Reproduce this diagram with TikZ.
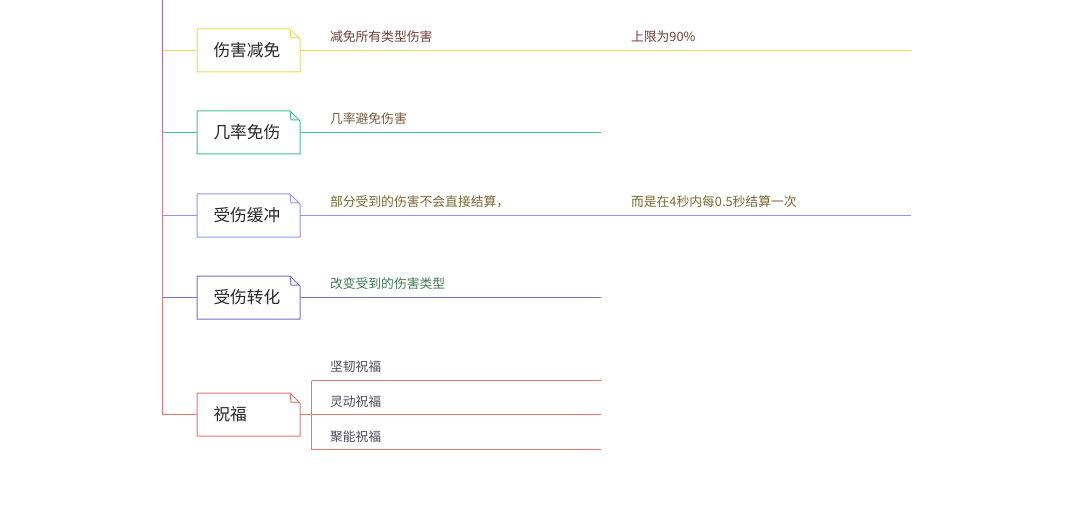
\documentclass[tikz,border=0pt]{standalone}
\usepackage{fontspec}
\setmainfont{Noto Sans CJK SC}
\usetikzlibrary{calc}

\definecolor{jmcolor}{HTML}{EED95A}
\definecolor{jlcolor}{HTML}{3EC49A}
\definecolor{hccolor}{HTML}{8A98EC}
\definecolor{zhcolor}{HTML}{7070D2}
\definecolor{zfcolor}{HTML}{EC7272}
\definecolor{jmtext}{HTML}{6E3E36}
\definecolor{jltext}{HTML}{7A5C3C}
\definecolor{hctext}{HTML}{786A32}
\definecolor{zhtext}{HTML}{3E7A55}
\definecolor{zftext}{HTML}{4A4A5C}

\tikzset{every picture/.style={line width=0.75pt}}
\tikzset{
	topic/.style={minimum width=76.5pt, minimum height=31.5pt, text width=52.5pt,
		inner xsep=12pt, inner ysep=0pt, align=left,
		font=\fontsize{12.5}{14}\selectfont, text=black!85},
	leaf/.style={anchor=west, inner sep=0pt, font=\fontsize{9.6}{11}\selectfont}}

% box with folded corner
\newcommand{\notebox}[2]{%
	\draw [draw=#2] (#1.south west) -- (#1.north west) -- ($(#1.north east)+(-10,0)$) -- ($(#1.north east)+(0,10)$) -- (#1.south east) -- cycle ;
	\draw [draw=#2] ($(#1.north east)+(-10,0)$) -- ++(1,9) -- ++(8,0) ;}

\begin{document}
\begin{tikzpicture}[x=0.75pt,y=0.75pt,yscale=-1,xscale=1]
	\useasboundingbox (0,0) rectangle (1080,513);
	\begin{scope}[shift={(0.5,0.5)}]

	% Topic boxes
	\node [topic] (jm) at (248,50) {伤害减免};
	\node [topic] (jl) at (248,132) {几率免伤};
	\node [topic] (hc) at (248,215) {受伤缓冲};
	\node [topic] (zh) at (248,297) {受伤转化};
	\node [topic] (zf) at (248,414) {祝福};
	\notebox{jm}{jmcolor}
	\notebox{jl}{jlcolor}
	\notebox{hc}{hccolor}
	\notebox{zh}{zhcolor}
	\notebox{zf}{zfcolor}

	% Trunk
	\coordinate (trunktop) at (162,-1);
	\draw [draw={rgb, 255:red, 180; green, 98; blue, 142 }] (trunktop) -- (jm.west -| trunktop) ;
	\draw [draw={rgb, 255:red, 200; green, 108; blue, 146 }] (jm.west -| trunktop) -- (jl.west -| trunktop) ;
	\draw [draw={rgb, 255:red, 214; green, 122; blue, 146 }] (jl.west -| trunktop) -- (hc.west -| trunktop) ;
	\draw [draw={rgb, 255:red, 222; green, 124; blue, 138 }] (hc.west -| trunktop) -- (zh.west -| trunktop) ;
	\draw [draw={rgb, 255:red, 234; green, 116; blue, 118 }] (zh.west -| trunktop) -- (zf.west -| trunktop) ;

	% Branches
	\draw [draw=jmcolor] (jm.west -| trunktop) -- (jm.west) ;
	\draw [draw=jlcolor] (jl.west -| trunktop) -- (jl.west) ;
	\draw [draw=hccolor] (hc.west -| trunktop) -- (hc.west) ;
	\draw [draw=zhcolor] (zh.west -| trunktop) -- (zh.west) ;
	\draw [draw=zfcolor] (zf.west -| trunktop) -- (zf.west) ;

	% Detail lines
	\coordinate (jmend) at (910,50);
	\coordinate (jlend) at (600,132);
	\coordinate (hcend) at (910,215);
	\coordinate (zhend) at (600,297);
	\draw [draw=jmcolor] (jm.east) -- (jmend) ;
	\draw [draw=jlcolor] (jl.east) -- (jlend) ;
	\draw [draw=hccolor] (hc.east) -- (hcend) ;
	\draw [draw=zhcolor] (zh.east) -- (zhend) ;

	% Text Node
	\node [leaf, text=jmtext] (jma) at (329,36) {减免所有类型伤害};
	\node [leaf, text=jmtext] (jmb) at (630,36) {上限为90\%};
	\node [leaf, text=jltext] (jla) at (329,118) {几率避免伤害};
	\node [leaf, text=hctext] (hca) at (329,201) {部分受到的伤害不会直接结算，};
	\node [leaf, text=hctext] (hcb) at (630,201) {而是在4秒内每0.5秒结算一次};
	\node [leaf, text=zhtext] (zha) at (329,283) {改变受到的伤害类型};

	% Blessings
	\coordinate (zfsplit) at (311,414);
	\coordinate (zftop) at (311,380);
	\coordinate (zfbot) at (311,449);
	\draw [draw=zfcolor] (zf.east) -- (zfsplit) ;
	\draw [draw=zfcolor] (zftop) -- (zfbot) ;
	\node [leaf, text=zftext] (jr) at (329,366) {坚韧祝福};
	\node [leaf, text=zftext] (ld) at (329,401) {灵动祝福};
	\node [leaf, text=zftext] (jn) at (329,436) {聚能祝福};
	\draw [draw=zfcolor] (zftop) -- (600,380) ;
	\draw [draw=zfcolor] (zfsplit) -- (600,414) ;
	\draw [draw=zfcolor] (zfbot) -- (600,449) ;

	\end{scope}
\end{tikzpicture}
\end{document}
